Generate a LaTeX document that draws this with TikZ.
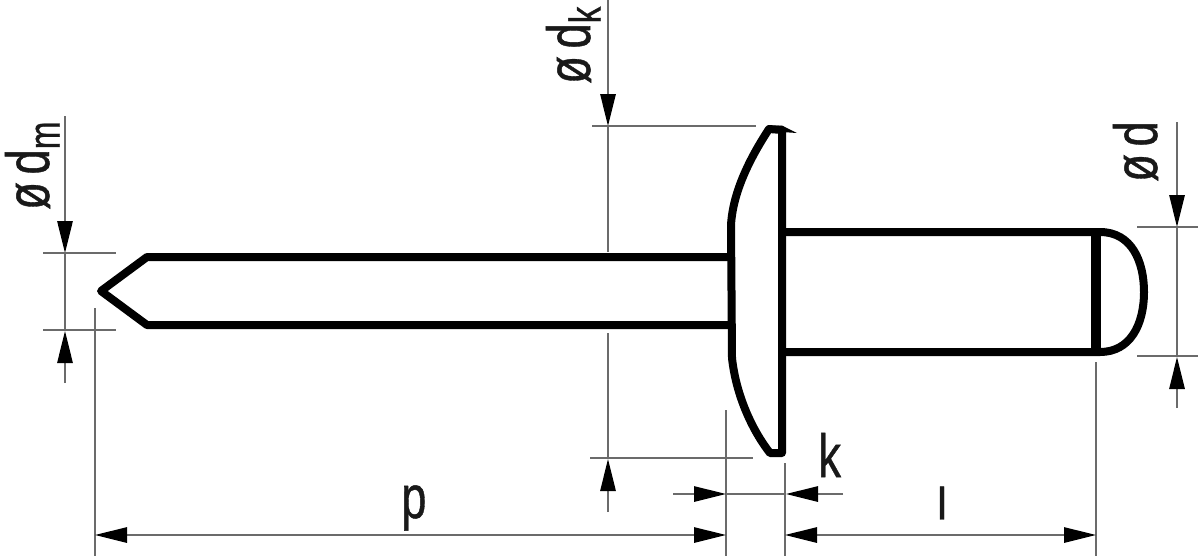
\documentclass[tikz,border=0pt]{standalone}
\usepackage{fontspec}
\setmainfont[FakeBold=0.8]{Liberation Sans}
\usetikzlibrary{arrows.meta}
\tikzset{
  thick line/.style={line width=6pt,black,line join=round,line cap=round},
  thin line/.style={line width=1.4pt,black!58},
  dimarrow/.style={line width=1.4pt,black!58,-{Triangle[length=24pt,width=11.5pt,color=black]}},
  dimboth/.style={line width=1.4pt,black!58,{Triangle[length=24pt,width=11.5pt,color=black]}-{Triangle[length=24pt,width=11.5pt,color=black]}},
  lab/.style={inner sep=0pt,font=\fontsize{34}{34}\selectfont,text=black!90}
}
\newcommand{\tallbox}[1]{\scalebox{1}[1.34]{#1}}
\newcommand{\subs}[1]{\raisebox{-6pt}{\fontsize{25}{25}\selectfont #1}}
\begin{document}
\begin{tikzpicture}[x=0.75pt,y=-0.75pt]
\useasboundingbox (0,0) rectangle (1200,558);
% rivet: mandrel
\draw[thick line] (728,257) -- (147,257) -- (101,291) -- (147,325) -- (728,325);
% head
\draw[thick line] (782,453) -- (782,130) -- (769,129)
  .. controls (752,155) and (733,190) .. (731,225) -- (732,358)
  .. controls (736,395) and (752,430) .. (770,453) -- (782,453);
\fill[black] (768,125.5) -- (782,125.5) -- (797,133) -- (782,132) -- cycle;
% body
\draw[thick line] (785,232) -- (1100,232)
  .. controls (1132,232) and (1144,262) .. (1144,292)
  .. controls (1144,325) and (1130,352) .. (1100,352) -- (785,352);
\draw[line width=6.8pt] (1096,232) -- (1096,352);
% dimension d_k
\draw[dimarrow] (608,0) -- (608,126);
\draw[thin line] (608,126) -- (608,252);
\draw[thin line] (592,126) -- (756,126);
\draw[thin line] (608,333) -- (608,458);
\draw[dimarrow] (608,512) -- (608,459);
\draw[thin line] (590,458) -- (753,458);
% dimension d_m
\draw[dimarrow] (65,116) -- (65,253);
\draw[thin line] (65,253) -- (65,330);
\draw[dimarrow] (65,383) -- (65,331);
\draw[thin line] (43,253) -- (116,253);
\draw[thin line] (43,330) -- (116,330);
% dimension d
\draw[dimarrow] (1177,122) -- (1177,227);
\draw[thin line] (1177,227) -- (1177,356);
\draw[dimarrow] (1177,408) -- (1177,357);
\draw[thin line] (1137,227) -- (1198,227);
\draw[thin line] (1137,356) -- (1198,356);
% extension lines
\draw[thin line] (95,308) -- (95,556);
\draw[thin line] (726,410) -- (726,556);
\draw[thin line] (785,463) -- (785,556);
\draw[thin line] (1096,362) -- (1096,556);
% p, l, k
\draw[dimboth] (95,535) -- (726,535);
\draw[dimboth] (785,535) -- (1096,535);
\draw[dimarrow] (673,494) -- (726,494);
\draw[thin line] (726,494) -- (785,494);
\draw[dimarrow] (843,494) -- (786,494);
% labels
\node[lab,anchor=base west] (lp) at (401,518) {\tallbox{p}};
\node[lab] (ll) at (942,503) {l};
\node[lab,anchor=base west] (lk) at (818,477) {\tallbox{k}};
\node[lab,rotate=90,anchor=base west] (ldm) at (49,210) {\tallbox{ø\,d\subs{m}}};
\node[lab,rotate=90,anchor=base west] (ldk) at (590,84) {\tallbox{ø\,d\subs{k}}};
\node[lab,rotate=90,anchor=base west] (ld) at (1157,182) {\tallbox{ø\,d}};
\end{tikzpicture}
\end{document}
